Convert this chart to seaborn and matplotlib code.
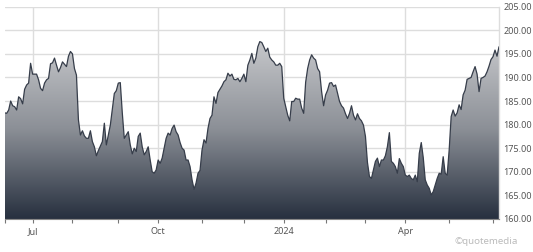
import numpy as np
import pandas as pd
import matplotlib
matplotlib.use("Agg")
import matplotlib.pyplot as plt
import seaborn as sns
from matplotlib.colors import LinearSegmentedColormap

# ---- data (trading-day index, closing price) ----
days = [0, 1, 2, 3, 4, 5, 6, 7, 8, 9, 10, 11, 12, 13, 14, 16, 17, 18, 19, 20,
        21, 22, 23, 24, 25, 26, 27, 28, 29, 31, 32, 33, 34, 35, 36, 37, 38, 39, 40,
        41, 42, 43, 44, 45, 46, 47, 49, 50, 51, 52, 53, 55, 56, 57, 58, 59, 60,
        61, 62, 63, 64, 65, 66, 67, 68, 69, 70, 71, 72, 73, 74, 75, 76, 77, 78, 79, 80,
        81, 82, 83, 84, 85, 86, 87, 88, 89, 90, 91, 92, 93, 94, 95, 96, 97, 98, 99, 100,
        101, 102, 103, 104, 105, 106, 107, 108, 109, 110, 111, 112, 113, 114, 115, 116, 117, 118, 119, 120,
        121, 122, 123, 124, 125, 126, 127, 128, 129, 130, 131, 132, 133, 134, 135, 136, 137, 138, 139, 140,
        141, 142, 143, 144, 145, 146, 147, 148, 149, 150, 151, 152, 153, 154, 155, 156, 157, 158, 159, 160,
        161, 162, 163, 164, 165, 166, 167, 168, 169, 170, 171, 172, 173, 174, 175, 176, 177, 178, 179, 180,
        181, 182, 183, 184, 185, 186, 187, 188, 189, 190, 191, 192, 193, 194, 195, 196, 197, 198, 199, 200,
        201, 202, 203, 204, 205, 206, 207, 208, 209, 210, 211, 212, 213, 214, 215, 216, 217, 218, 219, 220,
        221, 222, 223, 224, 225, 226, 227, 228, 229, 230, 231, 232, 233, 234, 235, 236, 237, 238, 239, 240,
        241, 242, 243, 244, 245, 246, 247, 248]

prices = [182.5, 182.4, 183.1, 185.0, 184.0, 183.8, 183.1, 185.9, 185.5, 184.4, 187.5, 188.4, 188.8, 193.0, 190.7,
          190.7, 189.5, 187.7, 187.2, 188.8, 189.5, 189.8, 192.9, 193.1, 194.1, 192.6, 191.2, 192.1, 193.3,
          192.3, 194.5, 195.5, 195.0, 191.9, 190.5, 181.0, 177.8, 178.7, 177.6, 177.1, 177.1, 178.7, 176.4,
          175.3, 173.4, 174.5, 176.4, 180.3, 175.7, 177.8, 179.9, 186.6, 187.2, 188.8, 188.9, 182.5, 177.1,
          177.8, 178.5, 175.7, 173.8, 175.0, 174.3, 177.5, 178.2, 175.3, 173.6, 174.3, 175.3, 172.5, 170.0,
          169.7, 170.4, 172.5, 171.8, 172.9, 175.0, 177.1, 178.2, 177.8, 179.2, 179.9, 178.5, 177.8, 176.2,
          175.0, 174.6, 172.5, 172.5, 171.1, 168.3, 166.3, 167.6, 169.7, 170.3, 174.6, 176.8,
          176.1, 179.2, 181.3, 182.0, 185.9, 184.5, 186.8, 187.5, 188.2, 189.1, 189.5, 190.9, 190.3, 190.7,
          189.6, 189.5, 189.8, 189.1, 189.8, 190.7,
          189.1, 192.6, 193.7, 195.1, 193.0, 194.1, 196.5, 197.6, 197.4, 196.5, 195.5, 196.2, 194.3, 193.7,
          193.3, 192.6, 192.6, 193.0, 192.3, 185.6,
          183.8, 182.0, 180.8, 184.9, 184.9, 185.6, 185.4, 185.4, 183.5, 182.4, 189.0, 191.9, 193.7, 194.8,
          194.1, 193.7, 191.9, 191.2, 187.0, 184.0,
          186.3, 187.3, 188.8, 188.9, 188.1, 188.4, 186.6, 184.9, 184.0, 183.5, 182.3, 181.3, 182.4, 184.0,
          182.0, 181.0, 182.3, 181.3, 180.8, 179.9,
          177.5, 172.0, 169.0, 168.6, 170.4, 172.2, 172.9, 171.1, 172.5, 172.5, 173.4, 175.3, 178.3, 172.2,
          171.8, 171.1, 169.7, 172.8, 171.8, 171.1,
          169.3, 169.0, 169.3, 168.6, 168.3, 169.3, 167.9, 173.9, 176.2, 173.0, 168.3, 167.2, 166.5, 165.1,
          165.8, 167.2, 168.6, 169.7, 169.5, 173.2,
          169.7, 169.3, 174.6, 181.7, 183.1, 181.8, 182.5, 184.2, 183.2, 186.3, 187.3, 189.6, 189.8, 190.0,
          191.2, 192.3, 190.7, 187.0, 189.8, 190.0,
          190.3, 191.2, 192.4, 193.8, 194.4, 195.8, 194.5, 196.5]

major_tick_days = [14, 77, 140, 201]
major_tick_labels = ["Jul", "Oct", "2024", "Apr"]
minor_tick_days = [0, 34, 57, 99, 120, 161, 181, 223, 245]
y_ticks = [160, 165, 170, 175, 180, 185, 190, 195, 200, 205]

df = pd.DataFrame({"day": days, "price": prices})

sns.set_theme(style="white")
plt.rcParams["font.family"] = ["Noto Sans", "DejaVu Sans"]

fig = plt.figure(figsize=(5.33, 2.52), dpi=100)
ax = fig.add_axes([0.0088, 0.131, 0.9274, 0.8425])

ymin, ymax = 160, 205
xmin, xmax = 0, 248

# gradient fill clipped to the area under the line
poly = ax.fill_between(df["day"], df["price"], ymin, facecolor="none", edgecolor="none")
cmap = LinearSegmentedColormap.from_list("g", ["#27303f", "#8c9097", "#c9cacd"])
grad = np.linspace(0, 1, 256).reshape(-1, 1)
im = ax.imshow(grad, cmap=cmap, origin="lower", aspect="auto",
               extent=[xmin, xmax, ymin, 198.5], zorder=2)
im.set_clip_path(poly.get_paths()[0], transform=ax.transData)

sns.lineplot(data=df, x="day", y="price", ax=ax, color="#363d4a", linewidth=0.9, zorder=3)

ax.set_xlim(xmin, xmax)
ax.set_ylim(ymin, ymax)

# grid
for yv in y_ticks:
    ax.axhline(yv, color="#dddddd", linewidth=1.0, zorder=1)
for xv in major_tick_days:
    ax.axvline(xv, color="#dddddd", linewidth=1.0, zorder=1)

ax.yaxis.tick_right()
ax.set_yticks(y_ticks)
ax.set_yticklabels([f"{v:.2f}" for v in y_ticks])
ax.tick_params(axis="y", length=0, pad=3, labelsize=6.5, labelcolor="#555555")

ax.set_xticks(major_tick_days)
ax.set_xticklabels(major_tick_labels)
ax.set_xticks(minor_tick_days, minor=True)
ax.tick_params(axis="x", which="both", direction="out", length=3, width=0.8,
               color="#777777", labelsize=6.5, labelcolor="#555555", pad=3, bottom=True)

ax.set_xlabel("")
ax.set_ylabel("")
for side in ["left", "top"]:
    ax.spines[side].set_visible(False)
ax.spines["right"].set_color("#dddddd")
ax.spines["right"].set_linewidth(1.0)
ax.spines["bottom"].set_color("#888888")
ax.spines["bottom"].set_linewidth(0.8)

fig.text(0.972, 0.022, "©quotemedia", ha="right", va="bottom", fontsize=7, color="#bbbbbb")

fig.savefig("out.png", dpi=100)
